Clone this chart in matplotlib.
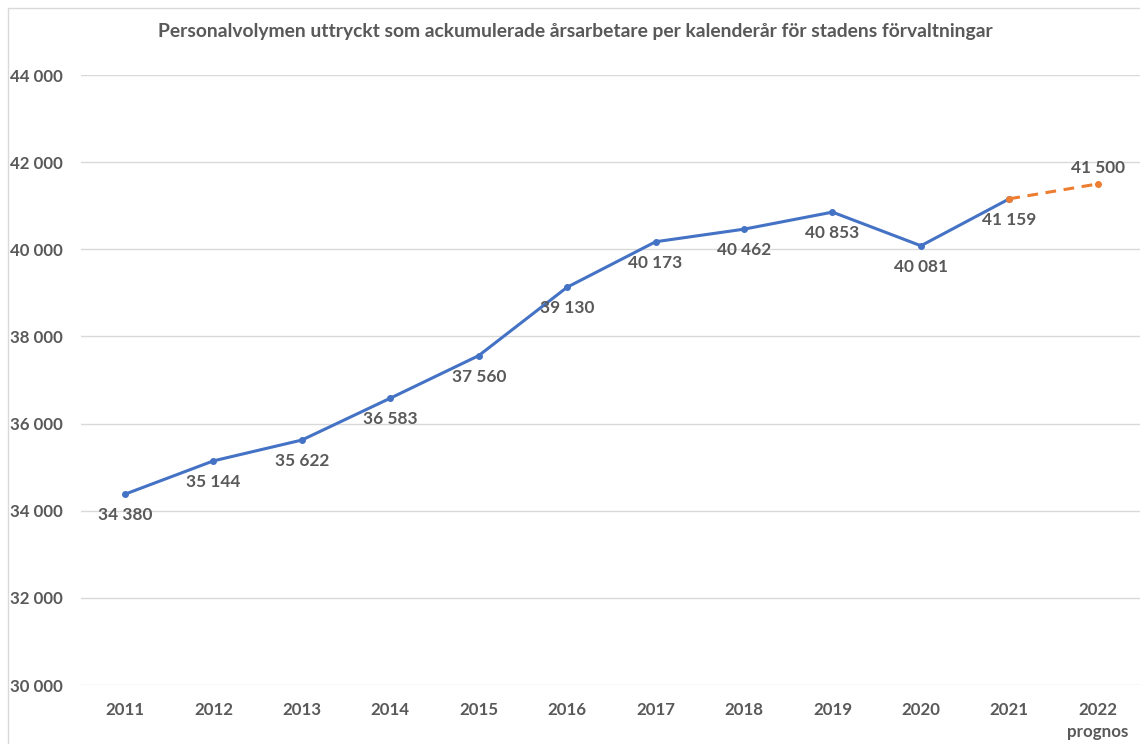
import matplotlib
matplotlib.use("Agg")
import matplotlib.pyplot as plt
from matplotlib.patches import Rectangle

years = ["2011", "2012", "2013", "2014", "2015", "2016", "2017", "2018", "2019", "2020", "2021", "2022\nprognos"]
values = [34380, 35144, 35622, 36583, 37560, 39130, 40173, 40462, 40853, 40081, 41159]
forecast = [41159, 41500]
labels = ["34 380", "35 144", "35 622", "36 583", "37 560", "39 130", "40 173", "40 462", "40 853", "40 081", "41 159"]
forecast_label = "41 500"
yticks = [30000, 32000, 34000, 36000, 38000, 40000, 42000, 44000]
ytick_labels = ["30 000", "32 000", "34 000", "36 000", "38 000", "40 000", "42 000", "44 000"]
title = "Personalvolymen uttryckt som ackumulerade årsarbetare per kalenderår för stadens förvaltningar"

plt.rcParams['font.family'] = ['Lato', 'DejaVu Sans']
txt = "#595959"

W, H = 1140, 744
fig = plt.figure(figsize=(W / 100, H / 100), dpi=100)
fig.patches.append(Rectangle((8 / W, -0.01), 1.02, 1 - 8 / H + 0.01, transform=fig.transFigure,
                             fill=False, edgecolor="#d9d9d9", lw=1))

ax = fig.add_axes([80.8 / W, 1 - 685 / H, (1142 - 80.8) / W, (685 - 75) / H])
x = list(range(len(values)))
ax.plot(x, values, color="#4472C4", lw=2.2, marker="o", ms=4, zorder=3)
ax.plot([len(values) - 1, len(values)], forecast, color="#ED7D31", lw=2.2, ls=(0, (3.5, 2.5)),
        marker="o", ms=4, zorder=3)

for xi, v, lab in zip(x, values, labels):
    ax.annotate(lab, (xi, v), xytext=(0, -9.5), textcoords="offset points", ha="center", va="top",
                fontsize=12.4, fontweight="bold", color=txt)
ax.annotate(forecast_label, (len(values), forecast[1]), xytext=(0, 6), textcoords="offset points",
            ha="center", va="bottom", fontsize=12.4, fontweight="bold", color=txt)

ax.set_xlim(-0.5, len(years) - 0.5)
ax.set_ylim(30000, 44000)
ax.set_yticks(yticks)
ax.set_yticklabels(ytick_labels)
ax.set_xticks(range(len(years)))
ax.set_xticklabels(years)
ax.grid(axis="y", color="#d9d9d9", lw=1)
ax.set_axisbelow(True)
for s in ax.spines.values():
    s.set_visible(False)
ax.tick_params(length=0, labelsize=12.2, labelcolor=txt)
for t in ax.get_xticklabels() + ax.get_yticklabels():
    t.set_fontweight("bold")
for t in ax.get_xticklabels():
    t.set_linespacing(1.5)
ax.tick_params(axis="y", pad=13)
ax.tick_params(axis="x", pad=12)

fig.text(575 / W, 1 - 31 / H, title, ha="center", va="center", fontsize=13.9, fontweight="bold", color=txt)

fig.savefig("out.png", dpi=100)
